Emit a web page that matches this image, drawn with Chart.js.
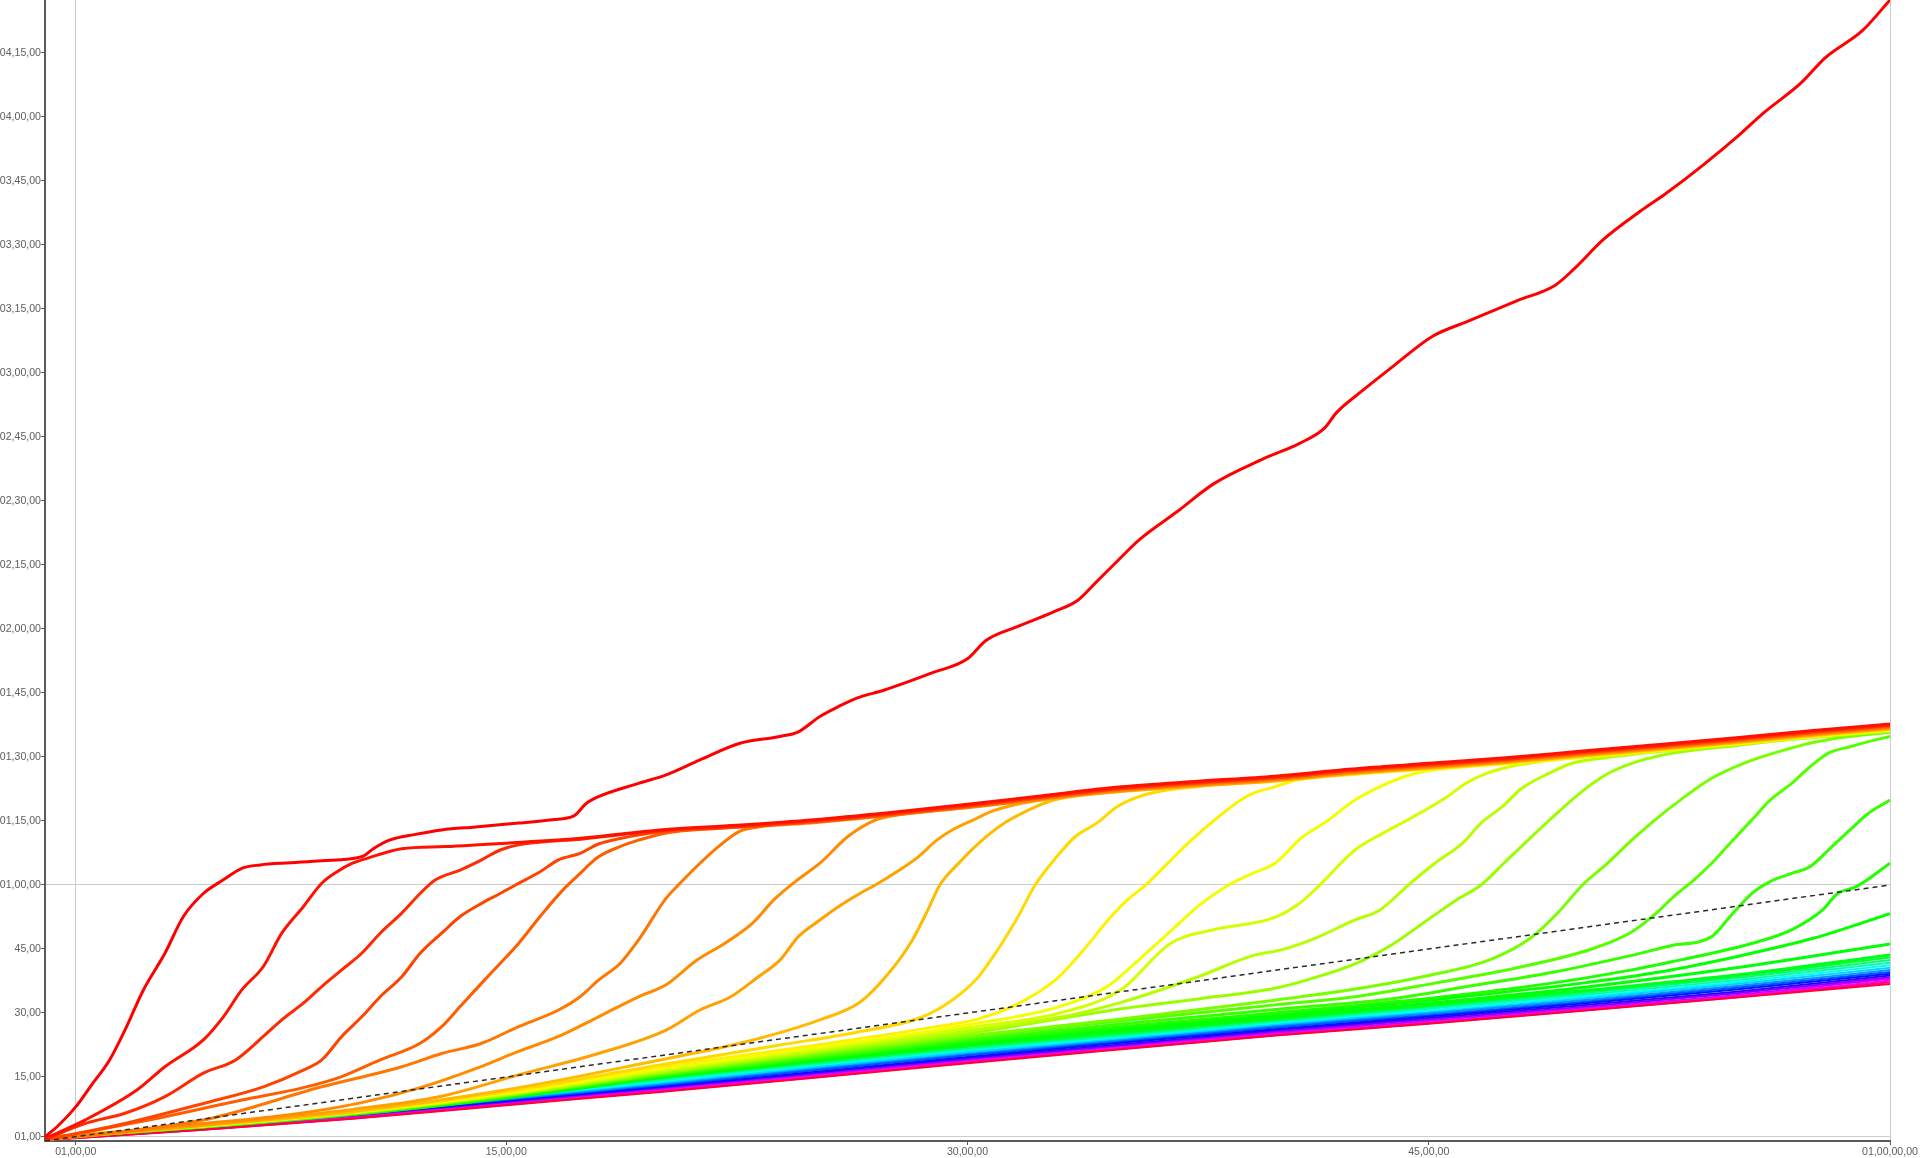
<!DOCTYPE html>
<html><head><meta charset="utf-8">
<script src="https://cdn.jsdelivr.net/npm/chart.js@4.4.1/dist/chart.umd.min.js"></script>
<style>html,body{margin:0;padding:0;background:#fff;overflow:hidden}canvas{display:block}</style>
</head><body>
<canvas id="c" width="1920" height="1158"></canvas>
<script>
// x in minutes, y in seconds
const xTickValues = [1, 15, 30, 45, 60];
const xTickLabels = ['01,00,00', '15,00,00', '30,00,00', '45,00,00', '01,00,00,00'];
const yTickValues = [1, 15, 30, 45, 60, 75, 90, 105, 120, 135, 150, 165, 180, 195, 210, 225, 240, 255];
const yTickLabels = ['01,00', '15,00', '30,00', '45,00', '01,00,00', '01,15,00', '01,30,00', '01,45,00', '02,00,00', '02,15,00', '02,30,00', '02,45,00', '03,00,00', '03,15,00', '03,30,00', '03,45,00', '04,00,00', '04,15,00'];

const referenceLine = [[0, 0], [60, 60]];

const run01 = [[0,1],[0.4,3.4],[1.0,8],[1.5,13],[2.1,19],[2.6,26],[3.2,35.4],[3.9,44],[4.5,52.6],[5.15,58],[5.8,61.2],[6.4,63.9],[7,64.7],[8,65.2],[9,65.7],[10.3,66.6],[10.7,68.6],[11.2,70.5],[12,71.8],[12.9,72.9],[14,73.6],[15.4,74.5],[16.5,75.3],[17.2,76.2],[17.6,79.1],[18,80.7],[19.3,83.8],[20.2,85.8],[21.3,89.3],[22.6,93.2],[23.9,94.8],[24.5,95.9],[25.2,99.5],[25.8,101.8],[26.4,103.8],[27.3,105.7],[28.8,109.6],[30,113],[30.6,117.3],[31.6,120.5],[32.8,124],[33.6,126.8],[34.2,131.1],[34.8,135.4],[35.6,141],[36.8,147.4],[38,154],[39.6,159.8],[40.8,163.5],[41.6,167],[42,170.7],[42.8,175.6],[43.9,181.9],[45.1,188.5],[46.3,192.2],[47.9,197],[49.1,200.5],[49.7,204.2],[50.7,211.4],[51.9,218],[52.7,222],[53.9,228.6],[55.1,235.8],[55.9,241],[57.1,247.9],[57.9,253.9],[59.1,260.2],[60,267.4]];
const run02 = [[0,0.6],[1.3,4.9],[3,12],[3.9,17.4],[5.15,23.7],[5.8,29.1],[6.4,35.4],[7.1,40.9],[7.7,48.7],[8.4,54.9],[9,60.4],[9.5,63.1],[10,65.1],[10.5,66.3],[11.6,68.5],[13,69],[15,69.8],[17.5,71],[20,72.9],[22.5,74],[25,75.3],[27.5,77],[30,78.9],[32.5,81],[35,83],[37.5,84.3],[40,85.5],[42.5,87.2],[45,88.5],[47.5,89.8],[50,91.4],[52.5,92.9],[55,94.5],[57.5,96.2],[60,97.7]];
const run03 = [[0,0.4],[1.3,4.1],[2.6,6.5],[3.9,10.4],[5.15,15.9],[6.2,19],[7.1,24.5],[7.7,28.4],[8.4,32.3],[9,36.2],[9.65,40.1],[10.3,44],[10.9,48.7],[11.6,53.4],[12.2,58],[12.7,61.2],[13.5,63.5],[14.2,65.9],[14.8,68.2],[15.4,69.4],[17.5,70.8],[20,72.7],[22.5,73.8],[25,75.1],[27.5,76.8],[30,78.7],[32.5,80.8],[35,82.8],[37.5,84.1],[40,85.3],[42.5,87.0],[45,88.3],[47.5,89.6],[50,91.2],[52.5,92.7],[55,94.3],[57.5,96.0],[60,97.5]];
const run04 = [[0,0.3],[2.6,4.1],[5.15,8.8],[7.1,12.7],[8.4,16.6],[9,19],[9.65,24.5],[10.3,29.1],[10.9,33.8],[11.6,38.5],[12.2,44],[12.9,48.7],[13.5,52.6],[14.2,55.7],[14.8,58],[15.3,60],[16.1,63.1],[16.7,65.9],[17.4,67.4],[18,69.6],[18.7,70.9],[20,72.5],[22.5,73.6],[25,74.9],[27.5,76.6],[30,78.5],[32.5,80.6],[35,82.6],[37.5,83.9],[40,85.1],[42.5,86.8],[45,88.1],[47.5,89.4],[50,91.0],[52.5,92.5],[55,94.1],[57.5,95.8],[60,97.3]];
const run05 = [[0,0.3],[3.9,5.7],[6.4,9.6],[8.4,12.5],[9.65,15.1],[10.9,19],[12.2,22.9],[12.9,26.8],[13.5,31.5],[14.2,37],[14.8,41.6],[15.4,46.3],[16.1,52.6],[16.8,58.5],[17.3,62],[18,66.6],[18.7,69],[19.3,70.5],[20.2,72.2],[22.5,73.5],[25,74.8],[27.5,76.5],[30,78.4],[32.5,80.5],[35,82.5],[37.5,83.8],[40,85.0],[42.5,86.7],[45,88.0],[47.5,89.3],[50,90.9],[52.5,92.4],[55,94.0],[57.5,95.7],[60,97.2]];
const run06 = [[0,0.3],[5.15,4.9],[9,12.7],[11.6,17.4],[12.9,20.5],[14.2,22.9],[15.4,26.8],[16.7,30.7],[17.4,33.8],[18,37.7],[18.7,41.6],[19.3,47.1],[20.2,56.9],[20.65,60.4],[21.3,65.1],[21.9,69],[22.6,72.6],[23.2,73.6],[25,74.6],[27.5,76.3],[30,78.2],[32.5,80.3],[35,82.3],[37.5,83.6],[40,84.8],[42.5,86.5],[45,87.8],[47.5,89.1],[50,90.7],[52.5,92.2],[55,93.8],[57.5,95.5],[60,97.0]];
const run07 = [[0,0.3],[5,4.0],[7.7,5.9],[10.3,9.0],[12.2,12.5],[14.2,17.5],[15.4,21.0],[16.7,24.5],[18,29.1],[19.3,33.8],[20.2,36.6],[21.2,42.4],[22.1,46.3],[23,51],[23.7,56.5],[24.4,60.8],[25.2,65.1],[26.1,71.3],[27,75.2],[27.7,76.4],[30,78.1],[32.5,80.2],[35,82.2],[37.5,83.5],[40,84.7],[42.5,86.4],[45,87.7],[47.5,89.0],[50,90.6],[52.5,92.1],[55,93.7],[57.5,95.4],[60,96.9]];
const run08 = [[0,0.3],[5,3.6],[10,7.4],[12.9,10.5],[15.4,15.5],[18,20.5],[20.2,26],[21.3,30.7],[22.3,33.8],[23.2,38.5],[23.9,42.4],[24.5,47.9],[25.2,51.8],[25.8,54.9],[26.5,58],[27.1,60.4],[27.7,63.1],[28.4,66.6],[29,70.5],[29.5,72.9],[30.3,75.6],[30.7,77.0],[31.6,78.9],[32.5,80.0],[35,82.0],[37.5,83.3],[40,84.5],[42.5,86.2],[45,87.5],[47.5,88.8],[50,90.4],[52.5,91.9],[55,93.5],[57.5,95.2],[60,96.7]];
const run09 = [[0,0.9],[5,3.6],[10,6.9],[15,12.0],[20,19.0],[22.6,22.9],[25.2,28.4],[26.5,32.5],[27.4,39],[28.2,47],[28.7,54],[29.1,60],[29.7,65],[30.4,70],[31.2,74.5],[32,77.6],[32.8,79.9],[35,81.9],[37.5,83.2],[40,84.4],[42.5,86.1],[45,87.4],[47.5,88.7],[50,90.3],[52.5,91.8],[55,93.4],[57.5,95.1],[60,96.6]];
const run10 = [[0,0.9],[5,3.5],[10,6.8],[15,11.6],[20,17.8],[23.9,22.5],[26.4,25.5],[28.5,29],[29.5,33],[30.3,38],[31,45],[31.6,52],[32.2,60],[32.9,66.6],[33.5,71.3],[34.2,74.5],[34.9,78.5],[35.8,81.2],[37.5,83.1],[40,84.3],[42.5,86.0],[45,87.3],[47.5,88.6],[50,90.2],[52.5,91.7],[55,93.3],[57.5,95.0],[60,96.5]];
const run11 = [[0,0.9],[5,3.5],[10,6.75],[15,11.4],[20,17.3],[25,22.4],[29,26.8],[30.3,28.5],[31.6,32],[32.9,38],[33.8,45],[34.6,52],[35.2,56.5],[35.8,60],[36.5,65],[37.2,70],[38,75],[38.7,79],[39.3,81.5],[40,83],[40.7,84.6],[42.5,85.9],[45,87.2],[47.5,88.5],[50,90.1],[52.5,91.6],[55,93.2],[57.5,94.9],[60,96.4]];
const run12 = [[0,0.9],[5,3.5],[10,6.7],[15,11.2],[20,16.9],[25,21.8],[30,27.2],[33,31.5],[34.5,36],[35.5,42],[36.5,48.5],[37.5,55],[38.4,59.6],[39.2,62.5],[40,65.1],[40.9,71.3],[41.6,74.5],[42.6,79.9],[43.4,83],[44.3,85.6],[45,86.8],[47.5,88.4],[50,90.0],[52.5,91.5],[55,93.1],[57.5,94.8],[60,96.3]];
const run13 = [[0,0.8],[5,3.45],[10,6.65],[15,11.0],[20,16.6],[25,21.4],[30,26.5],[33,30],[35,35.5],[36.6,46.3],[38,49.5],[40,52.4],[40.8,55.7],[41.4,59.6],[42.6,68.2],[43.5,72.1],[44.5,76],[45.6,80.7],[46.2,83.8],[46.9,86.2],[47.8,88.0],[48.5,88.8],[50,89.9],[52.5,91.4],[55,93.0],[57.5,94.7],[60,96.2]];
const run14 = [[0,0.8],[5,3.4],[10,6.6],[15,10.9],[20,16.3],[25,21.0],[30,25.8],[33,29],[35,32.5],[37.5,38.5],[39.3,43.5],[40.2,44.8],[41.3,47.5],[42.6,51.8],[43.4,54.1],[44.4,60.4],[45.2,65.1],[46.1,69.8],[46.7,74.5],[47.4,78.4],[48,82.5],[48.8,85.8],[49.7,88.6],[50.5,89.6],[52.5,91.3],[55,92.9],[57.5,94.6],[60,96.1]];
const run15 = [[0,0.8],[5,3.4],[10,6.55],[15,10.8],[20,16.0],[25,20.7],[30,25.2],[35,31],[37.5,33.3],[40,35.8],[41.3,38.3],[42.6,41.5],[43.8,46],[45,52],[45.9,56.5],[46.7,60],[47.5,65.5],[48.3,71],[49.2,77],[50,82],[50.8,86],[51.6,88.5],[52.5,90.3],[55,92.7],[57.5,94.6],[60,96.0]];
const run16 = [[0,0.8],[5,3.35],[10,6.5],[15,10.7],[20,15.8],[25,20.3],[30,24.6],[35,28.6],[40,33.0],[42.5,35.5],[45,38.8],[47,42.5],[48.3,47.5],[49.2,53.5],[50,60],[50.8,65],[51.6,70.5],[52.4,75.5],[53.2,80],[54.2,85],[55.2,88.4],[56.5,91.5],[57.5,93.4],[58.5,94.6],[60,95.8]];
const run17 = [[0,0.8],[5,3.3],[10,6.45],[15,10.6],[20,15.6],[25,19.9],[30,24.2],[35,28.2],[40,31.9],[42.6,33.8],[45.2,37.0],[47.8,40.5],[50.3,45],[51.6,49],[52.4,53.4],[53,57.5],[53.6,61],[54.2,65.1],[54.8,69.8],[55.5,75.2],[56.1,79.9],[56.8,83.8],[57.4,87.7],[58,90.9],[58.7,92.4],[59.3,93.6],[60,94.8]];
const run18 = [[0,0.7],[5,3.3],[10,6.4],[15,10.5],[20,15.4],[25,19.6],[30,23.7],[35,27.4],[40,30.8],[43.9,33.4],[46.5,36.5],[49,39.5],[51.6,43.5],[52.9,45.8],[54.2,47.9],[54.8,52.6],[55.5,58],[56.1,60.8],[56.8,62.7],[57.4,64.3],[58,68.2],[58.7,72.9],[59.3,76.8],[60,79.9]];
const run19 = [[0,0.7],[5,3.3],[10,6.35],[15,10.4],[20,15.2],[25,19.3],[30,23.3],[35,26.8],[40,30.0],[45.2,33.6],[49,37],[51.6,40.1],[52.9,42],[54.2,44],[55.5,46.3],[56.8,49.5],[57.8,54.1],[58.3,58],[58.9,59.6],[60,65.1]];
const run20 = [[0,0.7],[5,3.25],[10,6.3],[15,10.3],[20,15.0],[25,19.1],[30,23.0],[35,26.4],[40,29.5],[45,33.0],[50,37.0],[52.5,39.6],[55,43.2],[57.5,47.5],[60,53.3]];
const run21 = [[0,0.6],[5,3.2],[10,6.25],[15,10.2],[20,14.9],[25,18.9],[30,22.7],[35,26.0],[40,29.0],[45,32.3],[50,36.0],[55,40.6],[60,46.2]];
const run22 = [[0,0.6],[5,3.2],[10,6.2],[15,10.1],[20,14.8],[25,18.6],[30,22.3],[35,25.5],[40,28.6],[45,31.8],[50,35.2],[55,38.9],[60,43.6]];
const runHues = [0, 4, 10, 16, 22, 28, 33, 38, 44, 51, 57, 63, 70, 77, 84, 92, 100, 107, 113, 118, 122, 126];

const bandMinutes = [0, 5, 10, 15, 20, 25, 30, 35, 40, 45, 50, 55, 60];
const band01 = [0.8, 3.2, 6.6, 10.6, 14.7, 18.4, 22.0, 25.1, 28.4, 31.6, 35.0, 38.6, 43.0];
const band02 = [0.7, 3.15, 6.5, 10.4, 14.4, 18.1, 21.7, 24.8, 28.1, 31.3, 34.6, 38.2, 42.4];
const band03 = [0.7, 3.1, 6.4, 10.2, 14.1, 17.8, 21.4, 24.5, 27.8, 31.0, 34.2, 37.7, 41.8];
const band04 = [0.6, 3.05, 6.3, 10.0, 13.8, 17.5, 21.1, 24.2, 27.5, 30.6, 33.8, 37.2, 41.2];
const band05 = [0.6, 3.0, 6.2, 9.8, 13.5, 17.2, 20.8, 23.9, 27.2, 30.2, 33.4, 36.8, 40.6];
const band06 = [0.5, 2.95, 6.1, 9.6, 13.2, 16.9, 20.4, 23.6, 26.9, 29.9, 33.0, 36.3, 40.1];
const band07 = [0.5, 2.9, 6.0, 9.4, 12.9, 16.6, 20.1, 23.3, 26.6, 29.5, 32.6, 35.9, 39.6];
const band08 = [0.5, 2.85, 5.85, 9.2, 12.6, 16.2, 19.7, 23.0, 26.2, 29.2, 32.2, 35.5, 39.2];
const band09 = [0.4, 2.8, 5.7, 9.0, 12.4, 15.9, 19.4, 22.6, 25.9, 28.8, 31.8, 35.0, 38.8];
const band10 = [0.4, 2.75, 5.6, 8.9, 12.2, 15.6, 19.1, 22.3, 25.6, 28.5, 31.4, 34.6, 38.4];
const band11 = [0.3, 2.7, 5.5, 8.7, 12.0, 15.4, 18.8, 22.0, 25.3, 28.1, 31.1, 34.2, 38.0];
const band12 = [0.3, 2.65, 5.4, 8.6, 11.8, 15.1, 18.6, 21.8, 25.0, 27.8, 30.8, 33.9, 37.6];
const band13 = [0.2, 2.6, 5.3, 8.5, 11.6, 14.9, 18.4, 21.6, 24.8, 27.6, 30.6, 33.7, 37.2];
const band14 = [0.2, 2.6, 5.2, 8.4, 11.5, 14.8, 18.2, 21.5, 24.7, 27.5, 30.5, 33.6, 36.8];
const bandHues = [132, 146, 160, 175, 190, 205, 220, 235, 250, 268, 286, 304, 324, 346];

const runs = [run01, run02, run03, run04, run05, run06, run07, run08, run09, run10, run11, run12, run13, run14, run15, run16, run17, run18, run19, run20, run21, run22];
const bands = [band01, band02, band03, band04, band05, band06, band07, band08, band09, band10, band11, band12, band13, band14];

const toXY = pts => pts.map(p => ({x: p[0], y: p[1]}));
const datasets = [];
datasets.push({data: toXY(referenceLine), borderColor: '#2a2a2a', borderWidth: 1.5, borderDash: [5, 4], order: 0});
runs.forEach((pts, i) => datasets.push({data: toXY(pts), borderColor: `hsl(${runHues[i]},100%,50%)`, borderWidth: 3, order: 1 + i}));
bands.forEach((vals, i) => datasets.push({data: vals.map((v, j) => ({x: bandMinutes[j], y: v})), borderColor: `hsl(${bandHues[i]},100%,50%)`, borderWidth: 2, order: 60 - i}));

const tickFont = {family: '"Liberation Sans", Arial, sans-serif', size: 10.6};
const gridColor = c => (c.tick && (c.tick.value === 1 || c.tick.value === 60)) ? '#cccccc' : 'rgba(0,0,0,0)';

new Chart(document.getElementById('c').getContext('2d'), {
  type: 'line',
  data: {datasets},
  options: {
    responsive: false, animation: false, devicePixelRatio: 1,
    layout: {padding: {left: 0, right: 30, top: 0, bottom: 0}},
    plugins: {legend: {display: false}, tooltip: {enabled: false}},
    elements: {point: {radius: 0}, line: {cubicInterpolationMode: 'monotone'}},
    scales: {
      x: {
        type: 'linear', min: 0, max: 60,
        afterBuildTicks: s => { s.ticks = xTickValues.map(v => ({value: v})); },
        afterFit: s => { s.height = 17; s.paddingLeft = 0; s.paddingRight = 0; },
        ticks: {autoSkip: false, maxRotation: 0, minRotation: 0, padding: 1, color: '#5f5f5f', font: tickFont,
          callback: (v, i) => xTickLabels[i]},
        grid: {color: gridColor, tickColor: '#555', tickLength: 4, lineWidth: 1},
        border: {color: '#5a5a5a', width: 2}
      },
      y: {
        type: 'linear', min: 0, max: 267.4,
        afterBuildTicks: s => { s.ticks = yTickValues.map(v => ({value: v})); },
        afterFit: s => { s.width = 45; s.paddingTop = 0; s.paddingBottom = 0; },
        ticks: {autoSkip: false, padding: 0, color: '#5f5f5f', font: tickFont,
          callback: (v, i) => yTickLabels[i]},
        grid: {color: gridColor, tickColor: '#555', tickLength: 4, lineWidth: 1},
        border: {color: '#5a5a5a', width: 2}
      }
    }
  }
});
</script>
</body></html>
